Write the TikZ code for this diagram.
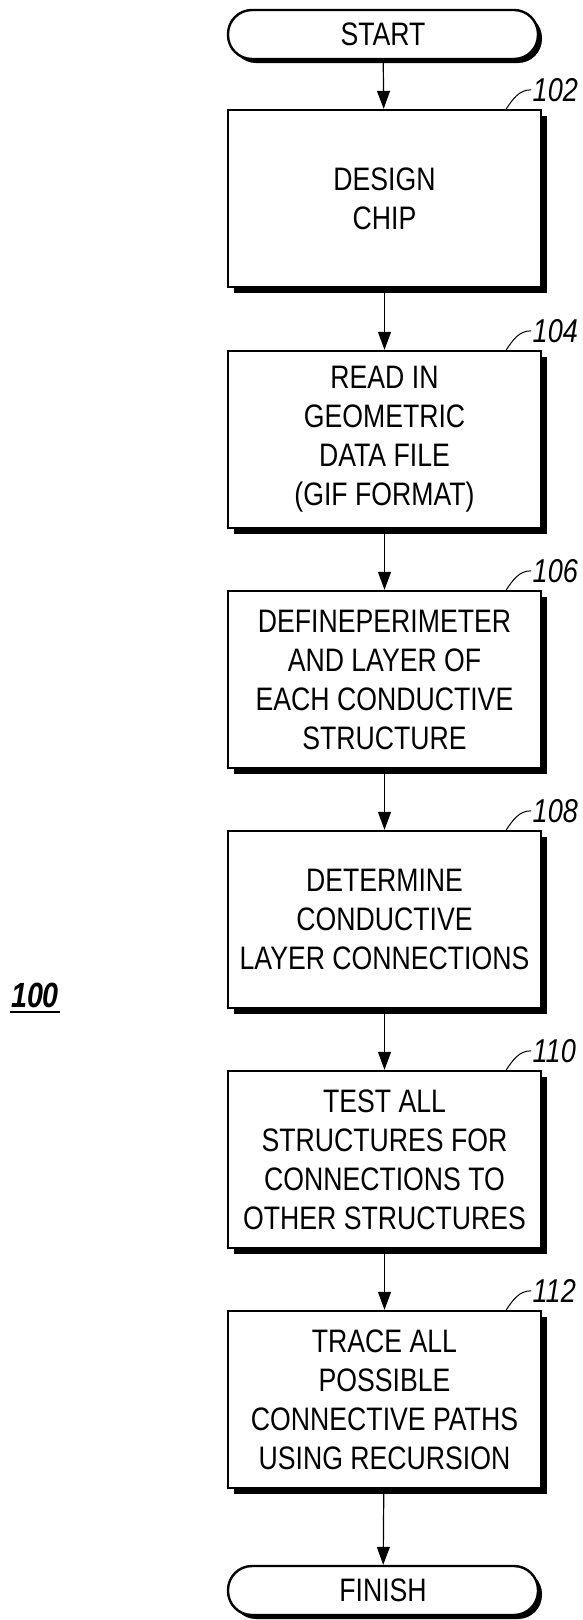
\documentclass[tikz,border=0pt]{standalone}
\usepackage{fontspec}
\setmainfont{Liberation Sans}[FakeStretch=0.82]
\usetikzlibrary{arrows.meta,shadows}
\begin{document}
\begin{tikzpicture}[x=1pt,y=-1pt,
  box/.style={draw, line width=2.4pt, fill=white, minimum width=313pt, minimum height=177pt,
    inner sep=2pt, align=center, font=\fontsize{32.5}{39}\selectfont,
    general shadow={fill=black, shadow xshift=6pt, shadow yshift=-6pt}},
  term/.style={draw, line width=2.4pt, fill=white, rounded corners=24pt, minimum width=310pt,
    minimum height=49pt, inner sep=2pt, font=\fontsize{32.5}{39}\selectfont,
    general shadow={fill=black, shadow xshift=4pt, shadow yshift=-4pt}},
  arr/.style={line width=1.2pt, -{Triangle[width=13pt,length=18pt]}},
  leader/.style={line width=1pt},
  ref/.style={anchor=west, inner sep=1pt, font=\fontsize{33}{36}\selectfont\itshape}
]
\useasboundingbox (0,0) rectangle (582,1620);

\node[term] (start) at (383,34.5) {START};
\node[box] (b102) at (384.5,198.5) {DESIGN\\CHIP};
\node[box] (b104) at (384.5,439.5) {READ IN\\GEOMETRIC\\DATA FILE\\(GIF FORMAT)};
\node[box] (b106) at (384.5,679.5) {DEFINEPERIMETER\\AND LAYER OF\\EACH CONDUCTIVE\\STRUCTURE};
\node[box] (b108) at (384.5,919.5) {DETERMINE\\CONDUCTIVE\\LAYER CONNECTIONS};
\node[box] (b110) at (384.5,1159.5) {TEST ALL\\STRUCTURES FOR\\CONNECTIONS TO\\OTHER STRUCTURES};
\node[box] (b112) at (384.5,1399.5) {TRACE ALL\\POSSIBLE\\CONNECTIVE PATHS\\USING RECURSION};
\node[term] (finish) at (383,1590.5) {FINISH};

\draw[arr] (start) -- (b102);
\draw[arr] (b102) -- (b104);
\draw[arr] (b104) -- (b106);
\draw[arr] (b106) -- (b108);
\draw[arr] (b108) -- (b110);
\draw[arr] (b110) -- (b112);
\draw[arr] (b112) -- (finish);

\foreach \n in {102,104,106,108,110,112}{
  \coordinate (c\n) at ([xshift=-36pt]b\n.north east);
  \draw[leader] (c\n) to[out=55,in=180] ++(25,-19) node[ref] (r\n) {\n};
}

\node[inner sep=0pt, font=\fontsize{35}{40}\selectfont\bfseries\itshape] (l100) at (35,995) {100};
\draw[line width=2.2pt] (10,1012) -- (60,1012);
\end{tikzpicture}
\end{document}
